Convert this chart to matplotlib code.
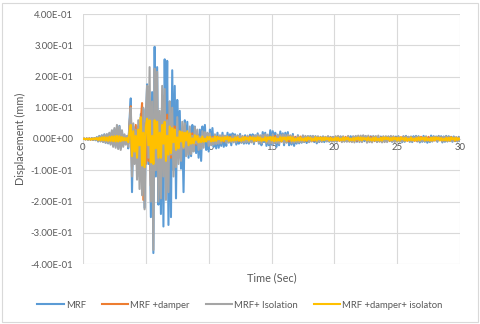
import numpy as np
import matplotlib
matplotlib.use('Agg')
import matplotlib.pyplot as plt
from matplotlib.patches import Rectangle

# displacement samples every 0.1 s, stored in micrometres (um)
mrf_um = [0, 1, -1, 2, -2, 1, -2, 3, -3, 2, -4,
          6, -8, 10, -7, 12, -9, 15, -12, 10, -14,
          18, -15, 25, -20, 30, -22, 38, -28, 42, -30,
          25, -20, 12, -15, 8, -30, 60, 130, -170, 40,
          -60, 20, -90, 40, -120, 80, -60, 95, -220, 30,
          175, -80, 120, -250, 150, -365, 295, -120, 230, -210,
          60, -240, 140, -280, 255, -90, 250, -275, 120, -250,
          220, -100, 170, -190, 125, -60, 90, -95, 30, -170,
          60, -30, 55, -60, 20, -55, 45, -20, 40, -45,
          15, -60, 30, -70, 40, -10, 45, -35, 10, -40,
          30, -12, 35, -25, 10, -30, 20, -28, 8, -22,
          20, -25, 5, -22, 20, -8, 15, -20, 18, -5,
          15, -18, 4, -15, 16, -12, 3, -15, 12, -14,
          6, -15, 14, -4, 15, -16, 12, -6, 18, -15,
          5, -20, 22, -10, 20, -22, 8, -20, 28, -18,
          25, -6, 20, -25, 10, -20, 24, -8, 18, -20,
          20, -10, 22, -20, 5, -18, 16, -22, 4, -15,
          12, -14, 3, -12, 11, -10, 2, -13, 9, -10,
          10, -3, 8, -10, 9, -14, 2, -10, 7, -9,
          8, -10, 2, -7, 8, -9, 7, -2, 6, -8,
          7, -8, 6, -2, 8, -7, 6, -8, 1, -6,
          8, -7, 9, -3, 7, -6, 8, -9, 6, -2,
          7, -8, 2, -7, 8, -6, 7, -8, 9, -3,
          6, -7, 8, -9, 2, -6, 8, -7, 6, -8,
          7, -2, 8, -7, 6, -9, 7, -3, 8, -7,
          9, -8, 3, -10, 8, -9, 10, -2, 7, -9,
          8, -10, 9, -3, 10, -8, 9, -11, 2, -9,
          10, -9, 8, -12, 3, -10, 11, -8, 9, -4,
          8, -9, 10, -2, 9, -11, 8, -9, 10, -8,
          9, -3, 7, -9, 8, -7, 2, -8, 7, -6]

damper_um = [0, 1, -1, 1, -1, 2, -2, 1, -2, 2, -1,
             3, -4, 5, -5, 6, -6, 8, -7, 9, -8,
             10, -9, 12, -11, 15, -12, 18, -14, 16, -15,
             12, -10, 8, -9, 6, -15, 40, 105, -90, 30,
             -50, 45, -70, 40, -60, 60, 115, -195, 50, -80,
             90, -70, 85, -150, 60, -110, 80, -30, 70, -85,
             75, -80, 20, -95, 60, -90, 78, -70, 50, -60,
             45, -15, 40, -45, 35, -40, 10, -35, 28, -30,
             25, -28, 5, -25, 20, -30, 18, -6, 15, -18,
             14, -15, 3, -14, 10, -12, 10, -2, 9, -10,
             8, -9, 7, -2, 9, -7, 8, -9, 2, -8,
             7, -8, 6, -7, 1, -6, 7, -8, 6, -7,
             6, -2, 7, -6, 8, -7, 6, -1, 7, -6,
             7, -6, 8, -7, 2, -8, 7, -6, 8, -2,
             8, -7, 9, -2, 7, -9, 8, -7, 3, -8,
             9, -8, 10, -9, 3, -10, 9, -8, 10, -2,
             8, -9, 2, -8, 9, -7, 8, -2, 7, -8,
             7, -6, 8, -1, 6, -8, 7, -6, 2, -7,
             6, -7, 5, -6, 1, -5, 6, -7, 5, -6,
             5, -1, 6, -5, 7, -6, 5, -1, 6, -5,
             6, -5, 7, -6, 1, -7, 6, -5, 7, -6,
             5, -6, 1, -5, 7, -6, 5, -6, 2, -5,
             6, -5, 7, -1, 5, -7, 6, -5, 7, -6,
             5, -6, 6, -5, 1, -6, 5, -6, 6, -5,
             6, -1, 5, -6, 7, -5, 6, -1, 5, -6,
             5, -6, 6, -5, 7, -1, 5, -6, 6, -5,
             6, -5, 1, -6, 5, -7, 6, -5, 7, -1,
             5, -6, 6, -5, 7, -6, 1, -6, 6, -5,
             6, -5, 7, -1, 5, -7, 6, -5, 7, -6,
             5, -6, 6, -5, 1, -6, 5, -6, 4, -3]

isolation_um = [0, 1, -1, 1, -2, 2, -1, 2, -3, 3, -2,
                5, -7, 9, -8, 11, -10, 14, -12, 16, -13,
                20, -18, 28, -25, 35, -28, 45, -32, 40, -35,
                28, -25, 15, -18, 10, -25, 45, 100, -120, 50,
                -80, 30, -130, 60, -160, 40, -180, 100, -225, 80,
                170, -60, 230, -200, 120, -355, 225, -100, 215, -200,
                90, -190, 170, -120, 160, -195, 60, -170, 120, -50,
                100, -120, 30, -90, 70, -80, 20, -70, 55, -30,
                50, -55, 15, -50, 40, -48, 10, -40, 38, -15,
                30, -35, 8, -32, 25, -28, 22, -5, 20, -22,
                18, -20, 4, -18, 15, -16, 3, -15, 12, -14,
                12, -3, 11, -12, 10, -12, 2, -10, 12, -11,
                10, -11, 12, -2, 11, -12, 10, -11, 3, -10,
                11, -10, 2, -11, 10, -12, 11, -3, 13, -12,
                12, -14, 13, -3, 15, -13, 14, -15, 4, -14,
                15, -14, 3, -13, 14, -15, 13, -4, 15, -13,
                13, -12, 14, -2, 12, -13, 11, -12, 3, -11,
                10, -11, 2, -10, 11, -9, 10, -2, 9, -10,
                9, -8, 10, -2, 8, -10, 9, -8, 2, -9,
                8, -2, 7, -8, 9, -7, 1, -9, 7, -8,
                9, -8, 10, -2, 8, -10, 9, -8, 3, -9,
                10, -9, 2, -10, 9, -11, 10, -3, 11, -10,
                11, -10, 12, -2, 10, -12, 11, -10, 3, -11,
                10, -3, 9, -10, 11, -9, 2, -11, 9, -10,
                9, -10, 8, -2, 10, -8, 9, -10, 2, -9,
                8, -9, 2, -8, 9, -7, 8, -2, 7, -8,
                7, -8, 6, -1, 8, -6, 7, -8, 2, -7,
                6, -7, 8, -6, 1, -8, 6, -7, 8, -2,
                7, -6, 8, -1, 6, -8, 7, -6, 8, -7,
                6, -7, 1, -6, 7, -5, 6, -7, 5, -4]

both_um = [0, 1, -1, 1, -1, 1, -2, 1, -1, 2, -1,
           3, -3, 4, -4, 5, -4, 6, -5, 5, -6,
           7, -6, 8, -7, 9, -8, 10, -8, 9, -7,
           6, -5, 4, -5, 3, -10, 20, 45, -55, 25,
           -40, 10, -60, 30, -20, 70, -85, 20, -90, 40,
           65, -20, 60, -75, 10, -80, 60, -30, 55, -60,
           20, -60, 45, -15, 55, -70, 10, -50, 40, -45,
           35, -10, 30, -35, 5, -30, 25, -8, 22, -25,
           20, -5, 25, -20, 18, -15, 2, -14, 12, -3,
           10, -11, 2, -10, 8, -9, 1, -8, 7, -2,
           7, -8, 1, -7, 8, -6, 7, -1, 5, -6,
           5, -6, 6, -1, 7, -6, 5, -6, 1, -5,
           5, -4, 6, -5, 1, -6, 5, -4, 6, -1,
           4, -5, 6, -1, 5, -6, 4, -5, 6, -4,
           5, -6, 1, -5, 6, -7, 5, -1, 7, -5,
           6, -7, 5, -6, 1, -5, 6, -7, 5, -1,
           5, -6, 6, -1, 7, -6, 5, -6, 1, -5,
           4, -5, 5, -4, 1, -5, 4, -5, 5, -1,
           4, -5, 1, -4, 6, -5, 4, -1, 5, -4,
           4, -4, 5, -1, 3, -5, 4, -4, 1, -4,
           5, -4, 4, -5, 1, -4, 5, -4, 4, -1,
           4, -5, 1, -4, 3, -5, 4, -1, 5, -4,
           5, -4, 4, -1, 3, -4, 5, -4, 1, -5,
           4, -5, 5, -4, 1, -5, 4, -5, 5, -1,
           5, -1, 4, -5, 3, -4, 5, -1, 4, -5,
           4, -5, 5, -1, 3, -5, 4, -5, 1, -4,
           5, -4, 1, -5, 3, -4, 5, -4, 4, -1,
           4, -5, 5, -4, 1, -5, 4, -5, 5, -4,
           5, -1, 4, -5, 3, -4, 1, -4, 4, -5,
           4, -5, 5, -1, 3, -5, 4, -3, 2, -1]

y_ticks = [-0.4, -0.3, -0.2, -0.1, 0.0, 0.1, 0.2, 0.3, 0.4]
y_labels = ['-4.00E-01', '-3.00E-01', '-2.00E-01', '-1.00E-01', '0.00E+00',
            '1.00E-01', '2.00E-01', '3.00E-01', '4.00E-01']
x_ticks = [0, 5, 10, 15, 20, 25, 30]

dt = 0.1
t = np.arange(len(mrf_um)) * dt

series = [
    (mrf_um, '#5b9bd5', 'MRF'),
    (damper_um, '#ed7d31', 'MRF +damper'),
    (isolation_um, '#a5a5a5', 'MRF+ Isolation'),
    (both_um, '#ffc000', 'MRF +damper+ isolaton'),
]

plt.rcParams['font.family'] = ['Lato', 'DejaVu Sans']
fig = plt.figure(figsize=(4.8, 3.24), dpi=100)
ax = fig.add_axes([83 / 480, 60 / 324, 377 / 480, 250 / 324])

for vals, col, lab in series:
    ax.plot(t, np.array(vals) / 1000.0, color=col, lw=1.5, label=lab, zorder=3)

ax.set_xlim(0, 30)
ax.set_ylim(-0.4, 0.4)
ax.set_xticks(x_ticks)
ax.set_yticks(y_ticks)
ax.set_yticklabels(y_labels)
ax.grid(True, color='#d9d9d9', lw=0.8, zorder=0)
for s in ax.spines.values():
    s.set_visible(False)
ax.spines['bottom'].set_visible(True)
ax.spines['bottom'].set_position(('data', 0))
ax.spines['bottom'].set_color('#d9d9d9')
ax.tick_params(length=0, labelsize=6.9, colors='#595959')
ax.tick_params(axis='y', pad=7)
ax.tick_params(axis='x', pad=3)

ax.set_xlabel('Time (Sec)', fontsize=7.8, color='#595959')
ax.xaxis.set_label_coords(0.5, -0.035)
ax.set_ylabel('Displacement (mm)', fontsize=7.8, color='#595959')
ax.yaxis.set_label_coords(-0.152, 0.5)

fig.legend(loc='center', bbox_to_anchor=(0.5, 1 - 305 / 324), ncol=4, frameon=False,
           fontsize=6.8, labelcolor='#595959', handlelength=2.8, handletextpad=0.2,
           columnspacing=1.7)

fig.patches.append(Rectangle((2 / 480, 2 / 324), 476 / 480, 319 / 324, transform=fig.transFigure,
                             fill=False, edgecolor='#d9d9d9', lw=0.8))

fig.savefig('out.png', dpi=100)
